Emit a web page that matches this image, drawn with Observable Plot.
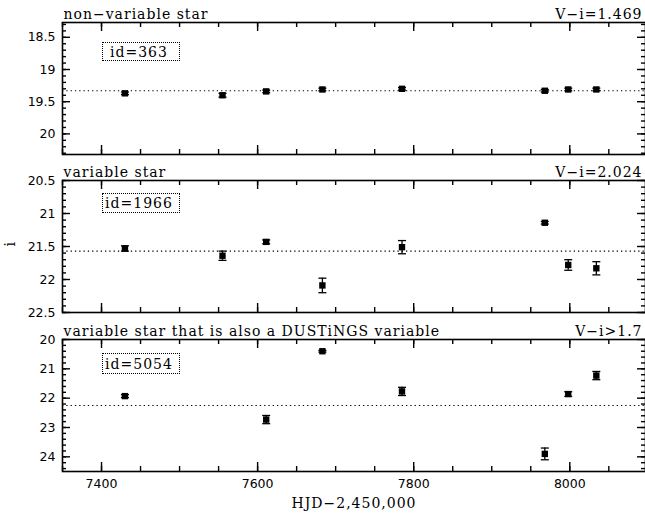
<!DOCTYPE html>
<html><head><meta charset="utf-8">
<script src="https://cdn.jsdelivr.net/npm/d3@7"></script>
<script src="https://cdn.jsdelivr.net/npm/@observablehq/plot@0.6"></script>
<style>
body{margin:0;background:#fff;}
#chart{position:relative;width:645px;height:515px;overflow:hidden;background:#fff;}
#chart svg{position:absolute;left:0;overflow:visible;}
#chart svg g[aria-label="text"] text{letter-spacing:1px;}
.idbox{position:absolute;border:1px dotted #000;font-family:"DejaVu Serif";font-size:14px;letter-spacing:1px;line-height:1;display:flex;align-items:center;justify-content:center;box-sizing:border-box;color:#000;padding-right:4px;}
</style></head><body><div id="chart"></div>
<script>
// Observation epochs (HJD - 2,450,000)
const hjd = [7430, 7555, 7611, 7683, 7785, 7968, 7998, 8034];

// id=363 (non-variable star)
const mag363 = [19.37, 19.40, 19.34, 19.31, 19.30, 19.33, 19.31, 19.31];
const err363 = [0.02, 0.03, 0.02, 0.02, 0.02, 0.02, 0.02, 0.02];
const mean363 = 19.33;

// id=1966 (variable star)
const mag1966 = [21.53, 21.64, 21.43, 22.09, 21.51, 21.14, 21.78, 21.83];
const err1966 = [0.04, 0.07, 0.03, 0.11, 0.10, 0.02, 0.08, 0.10];
const mean1966 = 21.57;

// id=5054 (variable star that is also a DUSTiNGS variable) — no point at 7555
const hjd5054 = [7430, 7611, 7683, 7785, 7968, 7998, 8034];
const mag5054 = [21.93, 22.73, 20.40, 21.77, 23.90, 21.86, 21.23];
const err5054 = [0.05, 0.14, 0.03, 0.14, 0.20, 0.08, 0.14];
const mean5054 = 22.25;

const titles = ["non−variable star", "variable star", "variable star that is also a DUSTiNGS variable"];
const colorLabels = ["V−i=1.469", "V−i=2.024", "V−i>1.7"];
const idLabels = ["id=363", "id=1966", "id=5054"];

const xTicks = [7400, 7600, 7800, 8000];
const xMinor = d3.range(7350, 8100, 50);
const yTicks1 = [18.5, 19, 19.5, 20];
const yTicks2 = [20.5, 21, 21.5, 22, 22.5];
const yTicks3 = [20, 21, 22, 23, 24];

const xDomain = [7350, 8097];
const W = 645, ML = 62, MR = 0, PH = 132;
const PW = W - ML - MR;

const chart = document.getElementById("chart");
const capSymbol = {draw(ctx) { ctx.moveTo(-4, 0); ctx.lineTo(4, 0); }};

function rows(xs, ms, es) { return xs.map((x, i) => ({hjd: x, mag: ms[i], err: es[i]})); }

// inward ticks on all four sides
function inTicksX(ticks, size) {
  return [
    Plot.tickX(ticks, {x: d => d, insetTop: PH - size, stroke: "black", strokeWidth: 1.4}),
    Plot.tickX(ticks, {x: d => d, insetBottom: PH - size, stroke: "black", strokeWidth: 1.4})
  ];
}
function inTicksY(ticks, size) {
  return [
    Plot.tickY(ticks, {y: d => d, insetRight: PW - size, stroke: "black", strokeWidth: 1.4}),
    Plot.tickY(ticks, {y: d => d, insetLeft: PW - size, stroke: "black", strokeWidth: 1.4})
  ];
}

function panel(cfg) {
  const data = rows(cfg.x, cfg.mag, cfg.err);
  const marks = [
    Plot.frame({strokeWidth: 1.6}),
    Plot.axisY({anchor: "left", ticks: cfg.yTicks, tickSize: 0, tickPadding: 7, tickFormat: d => String(d), label: null, fontSize: 12.5}),
    Plot.ruleY([cfg.mean], {strokeDasharray: "1.3,3", strokeWidth: 1.2}),
    Plot.ruleX(data, {x: "hjd", y1: d => d.mag - d.err, y2: d => d.mag + d.err, strokeWidth: 1.3}),
    Plot.dot(data, {x: "hjd", y: d => d.mag - d.err, symbol: capSymbol, r: 4, stroke: "#000", fill: "none", strokeWidth: 1.3}),
    Plot.dot(data, {x: "hjd", y: d => d.mag + d.err, symbol: capSymbol, r: 4, stroke: "#000", fill: "none", strokeWidth: 1.3}),
    Plot.dot(data, {x: "hjd", y: "mag", symbol: "square", r: 3.6, fill: "#000", stroke: "none"}),
    Plot.text([cfg.title], {text: d => d, frameAnchor: "top-left", dx: 1, dy: -4, lineAnchor: "bottom", textAnchor: "start", fontFamily: "DejaVu Serif", fontSize: 14}),
    Plot.text([cfg.colorLabel], {text: d => d, frameAnchor: "top-right", dx: -3, dy: -4, lineAnchor: "bottom", textAnchor: "end", fontFamily: "DejaVu Serif", fontSize: 14}),
    ...inTicksX(xTicks, 9),
    ...inTicksX(xMinor, 5),
    ...inTicksY(cfg.yTicks, 8),
    ...inTicksY(cfg.yMinor, 4)
  ];
  if (cfg.showX) {
    marks.push(Plot.axisX({anchor: "bottom", ticks: xTicks, tickSize: 0, tickPadding: 8, tickFormat: d => String(d), label: null, fontSize: 12.5}));
    marks.push(Plot.text(["HJD−2,450,000"], {text: d => d, frameAnchor: "bottom", dy: 36, lineAnchor: "bottom", fontFamily: "DejaVu Serif", fontSize: 14}));
  } else {
    marks.push(Plot.axisX({ticks: [], label: null}));
  }
  if (cfg.yLabel) {
    marks.push(Plot.text([cfg.yLabel], {text: d => d, frameAnchor: "left", dx: -52, rotate: -90, fontFamily: "DejaVu Serif", fontSize: 14}));
  }
  const svg = Plot.plot({
    width: W, height: cfg.marginTop + PH + cfg.marginBottom,
    marginLeft: ML, marginRight: MR, marginTop: cfg.marginTop, marginBottom: cfg.marginBottom,
    x: {domain: xDomain, label: null},
    y: {domain: cfg.yDomain, reverse: true, label: null},
    style: {fontFamily: "DejaVu Sans", fontSize: "12.5px", color: "#000", background: "transparent"},
    marks
  });
  svg.style.top = cfg.top + "px";
  chart.appendChild(svg);

  const box = document.createElement("div");
  box.className = "idbox";
  box.textContent = cfg.id;
  Object.assign(box.style, {left: "102px", top: cfg.boxTop + "px", width: "78px", height: cfg.boxH + "px"});
  chart.appendChild(box);
}

panel({x: hjd, mag: mag363, err: err363, mean: mean363, title: titles[0], colorLabel: colorLabels[0], id: idLabels[0],
  yDomain: [18.27, 20.32], yTicks: yTicks1, yMinor: d3.range(18.3, 20.35, 0.1),
  top: 0, marginTop: 22, marginBottom: 6, boxTop: 42, boxH: 19});
panel({x: hjd, mag: mag1966, err: err1966, mean: mean1966, title: titles[1], colorLabel: colorLabels[1], id: idLabels[1],
  yDomain: [20.5, 22.5], yTicks: yTicks2, yMinor: d3.range(20.5, 22.55, 0.1), yLabel: "i",
  top: 160, marginTop: 20, marginBottom: 8, boxTop: 193, boxH: 20});
panel({x: hjd5054, mag: mag5054, err: err5054, mean: mean5054, title: titles[2], colorLabel: colorLabels[2], id: idLabels[2],
  yDomain: [20, 24.5], yTicks: yTicks3, yMinor: d3.range(20, 24.5, 0.2), showX: true,
  top: 320, marginTop: 19, marginBottom: 44, boxTop: 353, boxH: 21});
</script></body></html>
